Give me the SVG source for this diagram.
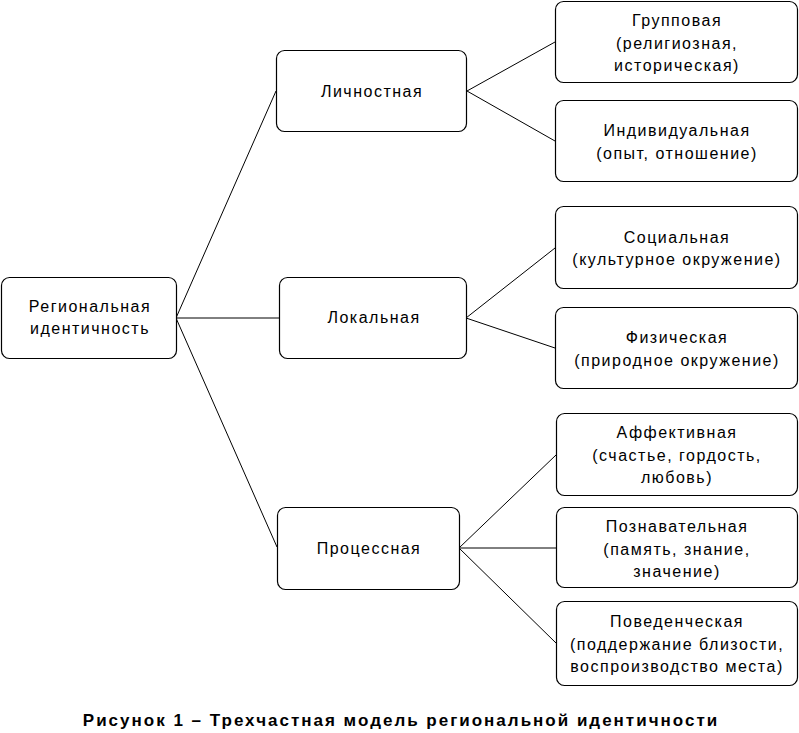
<svg xmlns="http://www.w3.org/2000/svg" width="799" height="733" viewBox="0 0 799 733">
<style>
.box{fill:#fff;stroke:#000;stroke-width:1.2}
.t{font-family:"Liberation Sans",Arial,sans-serif;font-size:16px;letter-spacing:1.5px;fill:#000;text-anchor:middle}
.cap{font-family:"Liberation Sans",Arial,sans-serif;font-size:17px;letter-spacing:2px;font-weight:bold;fill:#000;text-anchor:middle}
.c{stroke:#000;stroke-width:1;fill:none}
</style>
<rect width="799" height="733" fill="#fff"/>
<g id="connectors">
<line class="c" x1="176" y1="318" x2="276" y2="91"/>
<line class="c" x1="176" y1="318" x2="279" y2="318"/>
<line class="c" x1="176" y1="318" x2="277" y2="547"/>
<line class="c" x1="467" y1="91" x2="555" y2="42"/>
<line class="c" x1="467" y1="91" x2="555" y2="141"/>
<line class="c" x1="466" y1="318" x2="555" y2="248"/>
<line class="c" x1="466" y1="318" x2="555" y2="348"/>
<line class="c" x1="459" y1="548" x2="556" y2="455"/>
<line class="c" x1="459" y1="548" x2="556" y2="548"/>
<line class="c" x1="459" y1="548" x2="556" y2="643"/>
</g>
<g id="root">
<rect class="box" x="1.5" y="277.5" width="175" height="81" rx="8"/>
<text class="t" x="90" y="312">Региональная</text>
<text class="t" x="90" y="334">идентичность</text>
</g>
<g id="lichnostnaya">
<rect class="box" x="276.5" y="50.5" width="190" height="81" rx="8"/>
<text class="t" x="372" y="97">Личностная</text>
</g>
<g id="lokalnaya">
<rect class="box" x="279.5" y="277.5" width="187" height="81" rx="8"/>
<text class="t" x="374" y="323">Локальная</text>
</g>
<g id="processnaya">
<rect class="box" x="277.5" y="507.5" width="182" height="82" rx="8"/>
<text class="t" x="369" y="554">Процессная</text>
</g>
<g id="gruppovaya">
<rect class="box" x="555.5" y="1.5" width="242" height="81" rx="8"/>
<text class="t" x="677" y="26">Групповая</text>
<text class="t" x="677" y="49">(религиозная,</text>
<text class="t" x="677" y="71">историческая)</text>
</g>
<g id="individualnaya">
<rect class="box" x="555.5" y="100.5" width="242" height="81" rx="8"/>
<text class="t" x="677" y="136">Индивидуальная</text>
<text class="t" x="677" y="159">(опыт, отношение)</text>
</g>
<g id="socialnaya">
<rect class="box" x="555.5" y="206.5" width="242" height="82" rx="8"/>
<text class="t" x="677" y="243">Социальная</text>
<text class="t" x="677" y="265">(культурное окружение)</text>
</g>
<g id="fizicheskaya">
<rect class="box" x="555.5" y="307.5" width="242" height="81" rx="8"/>
<text class="t" x="677" y="343">Физическая</text>
<text class="t" x="677" y="366">(природное окружение)</text>
</g>
<g id="affektivnaya">
<rect class="box" x="556.5" y="413.5" width="241" height="82" rx="8"/>
<text class="t" x="677" y="438">Аффективная</text>
<text class="t" x="677" y="461">(счастье, гордость,</text>
<text class="t" x="677" y="483">любовь)</text>
</g>
<g id="poznavatelnaya">
<rect class="box" x="556.5" y="507.5" width="241" height="80" rx="8"/>
<text class="t" x="677" y="532">Познавательная</text>
<text class="t" x="677" y="555">(память, знание,</text>
<text class="t" x="677" y="577">значение)</text>
</g>
<g id="povedencheskaya">
<rect class="box" x="556.5" y="601.5" width="241" height="84" rx="8"/>
<text class="t" x="677" y="627">Поведенческая</text>
<text class="t" x="677" y="650">(поддержание близости,</text>
<text class="t" x="677" y="672">воспроизводство места)</text>
</g>
<text class="cap" x="401" y="726">Рисунок 1 – Трехчастная модель региональной идентичности</text>
</svg>
